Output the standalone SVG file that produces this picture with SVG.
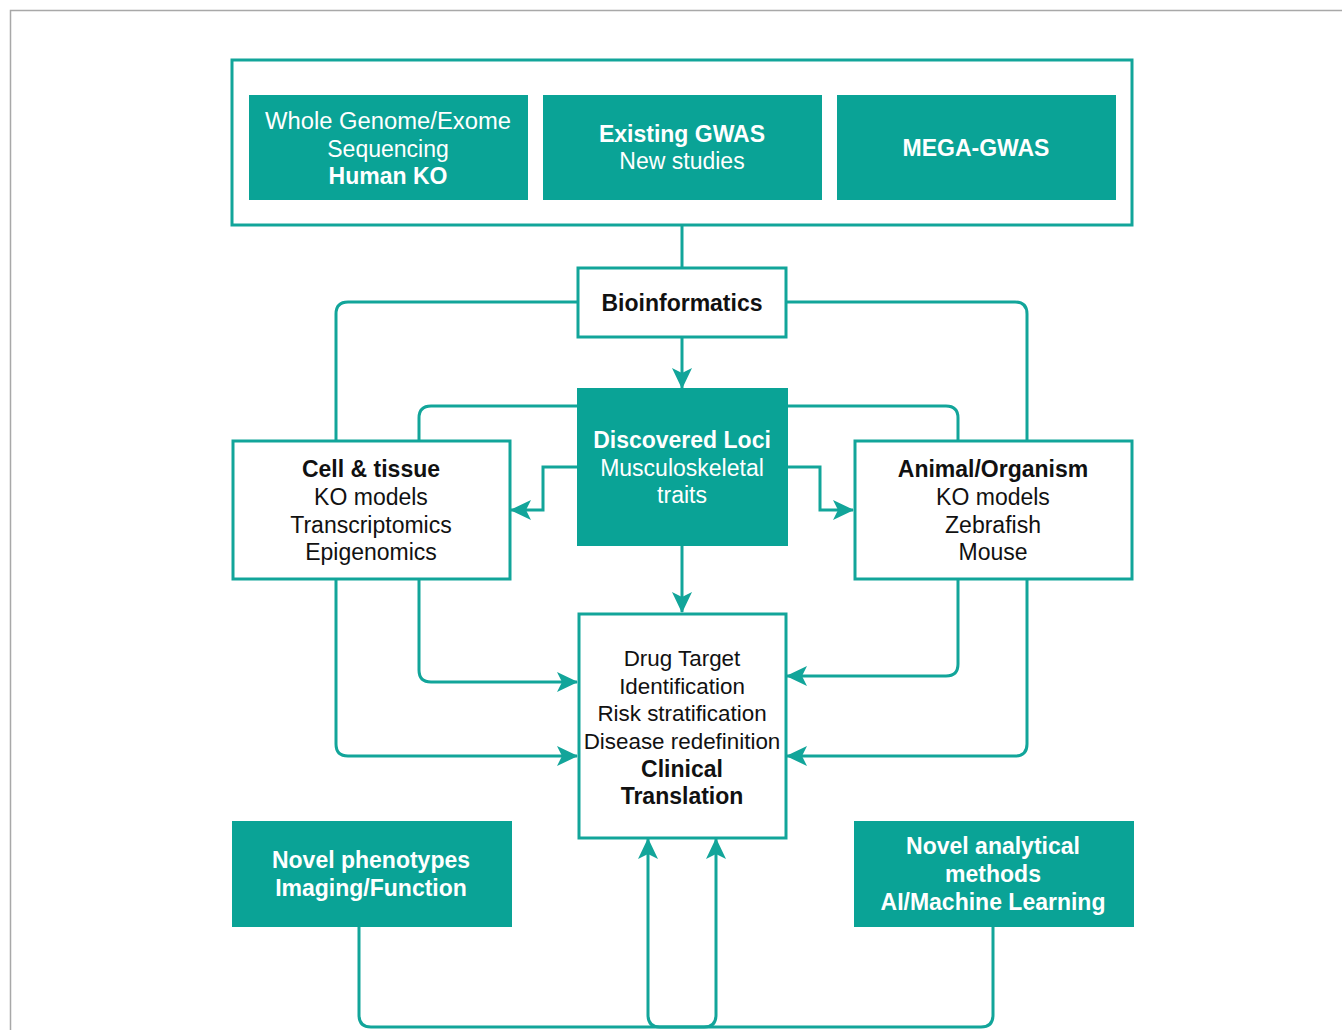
<svg xmlns="http://www.w3.org/2000/svg" width="1342" height="1030" viewBox="0 0 1342 1030">
<style>
.frame{fill:none;stroke:#a8a8a8;stroke-width:1.5}
.tbox{fill:#0aa396;stroke:#0aa396;stroke-width:2}
.wbox{fill:#ffffff;stroke:#12a59a;stroke-width:3}
.outer{fill:#ffffff;stroke:#12a59a;stroke-width:3}
.wt{font-family:"Liberation Sans",Arial,sans-serif;font-size:23px;fill:#ffffff;text-anchor:middle}
.bt{font-family:"Liberation Sans",Arial,sans-serif;font-size:23px;fill:#111111;text-anchor:middle}
.sm{font-size:22.4px}
.b{font-weight:bold}
.conn path{fill:none;stroke:#12a59a;stroke-width:3}
</style>
<defs>
<marker id="arr" markerUnits="userSpaceOnUse" markerWidth="22" markerHeight="22" refX="20" refY="10" orient="auto" viewBox="0 0 22 22">
<path d="M0,0 L21,10 L0,20 L5,10 Z" fill="#12a59a"/>
</marker>
</defs>
<rect width="1342" height="1030" fill="#ffffff"/>
<path class="frame" d="M10.5,1030 V10.5 H1342"/>

<g class="conn">
<path d="M682,225 V268"/>
<path d="M682,337 V388" marker-end="url(#arr)"/>
<path d="M578,302 H348 Q336,302 336,314 V440"/>
<path d="M786,302 H1015 Q1027,302 1027,314 V440"/>
<path d="M577,406 H431 Q419,406 419,418 V440"/>
<path d="M787,406 H946 Q958,406 958,418 V440"/>
<path d="M577,467 H543 V510 H511" marker-end="url(#arr)"/>
<path d="M787,467 H820 V510 H853" marker-end="url(#arr)"/>
<path d="M682,545 V612" marker-end="url(#arr)"/>
<path d="M419,579 V670 Q419,682 431,682 H577" marker-end="url(#arr)"/>
<path d="M336,579 V744 Q336,756 348,756 H577" marker-end="url(#arr)"/>
<path d="M958,579 V664 Q958,676 946,676 H787" marker-end="url(#arr)"/>
<path d="M1027,579 V744 Q1027,756 1015,756 H787" marker-end="url(#arr)"/>
<path d="M359,926 V1015 Q359,1027 371,1027 H704 Q716,1027 716,1015 V839" marker-end="url(#arr)"/>
<path d="M993,926 V1015 Q993,1027 981,1027 H660 Q648,1027 648,1015 V839" marker-end="url(#arr)"/>
</g>

<g id="sources">
<rect class="outer" x="232" y="60" width="900" height="165"/>
</g>
<g id="wgs">
<rect class="tbox" x="250" y="96" width="277" height="103"/>
<text class="wt" x="388" y="129" textLength="246" lengthAdjust="spacingAndGlyphs">Whole Genome/Exome</text>
<text class="wt" x="388" y="157">Sequencing</text>
<text class="wt b" x="388" y="184">Human KO</text>
</g>
<g id="gwas">
<rect class="tbox" x="544" y="96" width="277" height="103"/>
<text class="wt b" x="682" y="142">Existing GWAS</text>
<text class="wt" x="682" y="169">New studies</text>
</g>
<g id="mega">
<rect class="tbox" x="838" y="96" width="277" height="103"/>
<text class="wt b" x="976" y="156">MEGA-GWAS</text>
</g>

<g id="bioinformatics">
<rect class="wbox" x="578" y="268" width="208" height="69"/>
<text class="bt b" x="682" y="311">Bioinformatics</text>
</g>

<g id="loci">
<rect class="tbox" x="578" y="389" width="209" height="156"/>
<text class="wt b" x="682" y="448">Discovered Loci</text>
<text class="wt" x="682" y="476">Musculoskeletal</text>
<text class="wt" x="682" y="503">traits</text>
</g>

<g id="cell">
<rect class="wbox" x="233" y="441" width="277" height="138"/>
<text class="bt b" x="371" y="477">Cell &amp; tissue</text>
<text class="bt" x="371" y="505">KO models</text>
<text class="bt" x="371" y="533">Transcriptomics</text>
<text class="bt" x="371" y="560">Epigenomics</text>
</g>

<g id="animal">
<rect class="wbox" x="855" y="441" width="277" height="138"/>
<text class="bt b" x="993" y="477">Animal/Organism</text>
<text class="bt" x="993" y="505">KO models</text>
<text class="bt" x="993" y="533">Zebrafish</text>
<text class="bt" x="993" y="560">Mouse</text>
</g>

<g id="clinical">
<rect class="wbox" x="579" y="614" width="207" height="224"/>
<text class="bt sm" x="682" y="666">Drug Target</text>
<text class="bt sm" x="682" y="694">Identification</text>
<text class="bt sm" x="682" y="721">Risk stratification</text>
<text class="bt sm" x="682" y="749">Disease redefinition</text>
<text class="bt b" x="682" y="777">Clinical</text>
<text class="bt b" x="682" y="804">Translation</text>
</g>

<g id="phenotypes">
<rect class="tbox" x="233" y="822" width="278" height="104"/>
<text class="wt b" x="371" y="868">Novel phenotypes</text>
<text class="wt b" x="371" y="896">Imaging/Function</text>
</g>

<g id="analytical">
<rect class="tbox" x="855" y="822" width="278" height="104"/>
<text class="wt b" x="993" y="854">Novel analytical</text>
<text class="wt b" x="993" y="882">methods</text>
<text class="wt b" x="993" y="910">AI/Machine Learning</text>
</g>
</svg>
